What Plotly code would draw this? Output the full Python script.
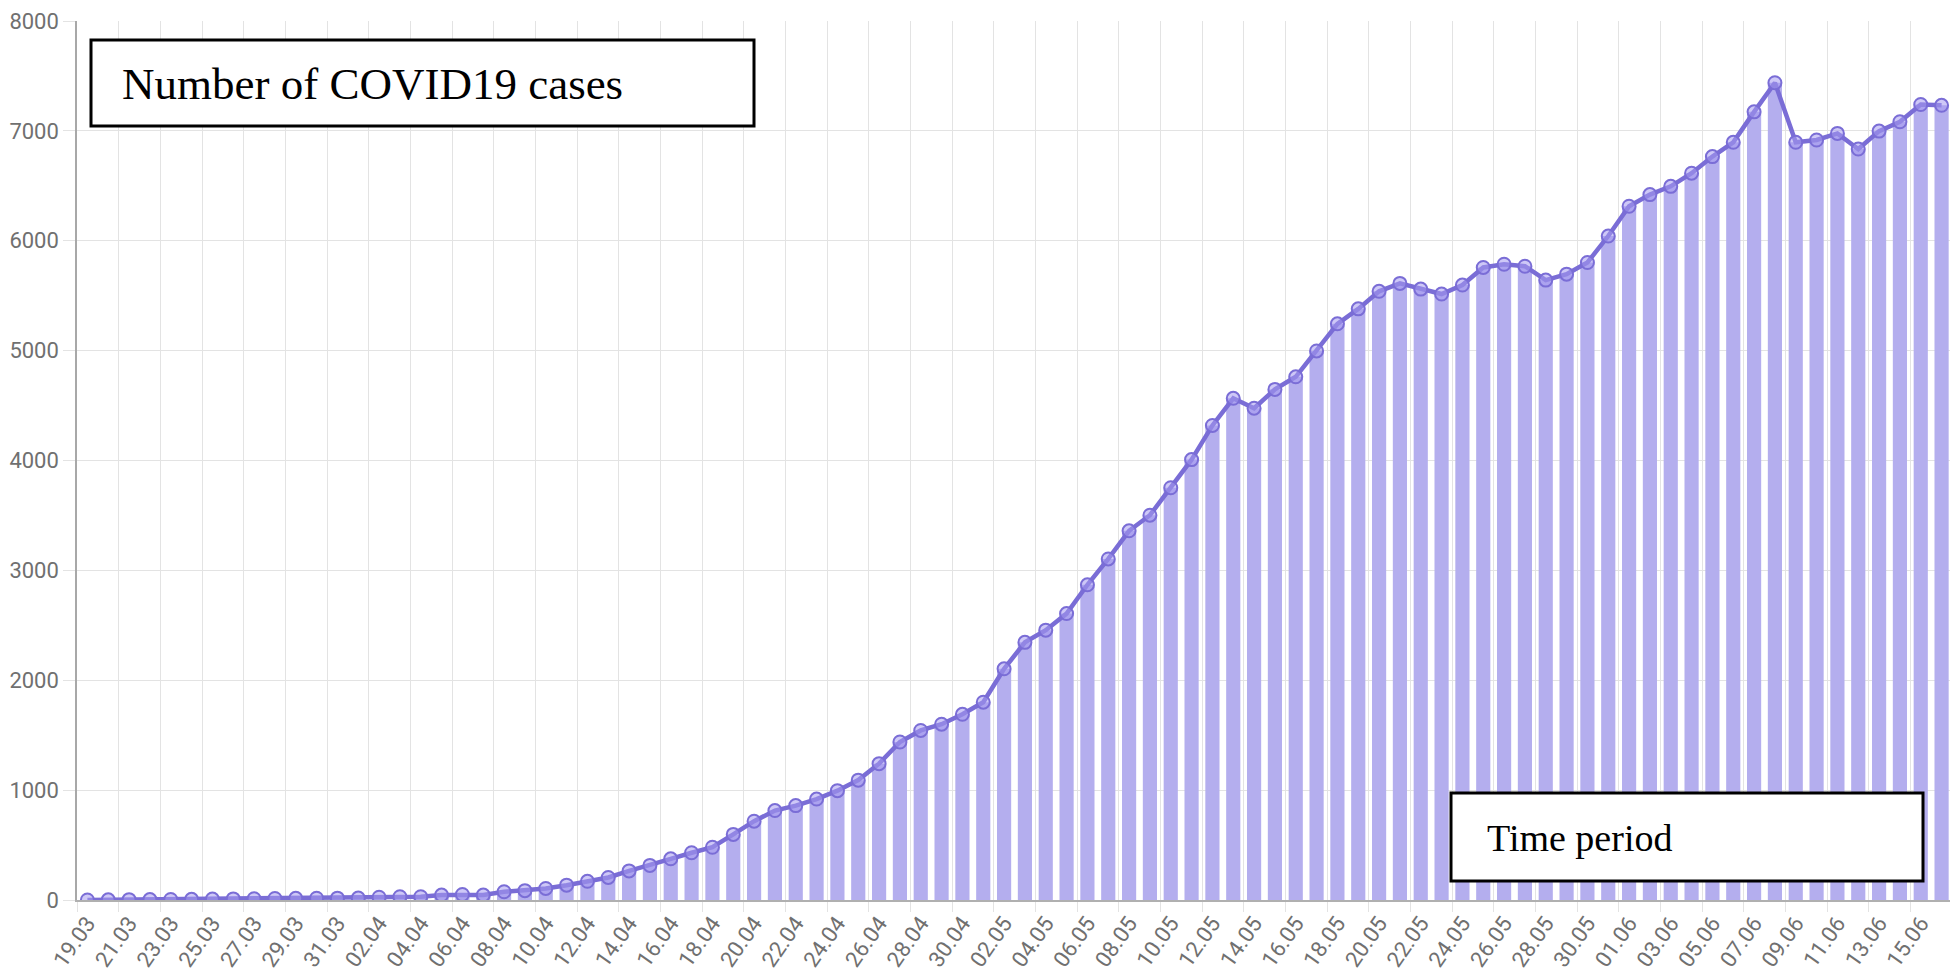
import pandas as pd
import plotly.graph_objects as go

# categories: daily dates 19.03 - 16.06
dates = pd.date_range("2020-03-19", "2020-06-16").strftime("%d.%m").tolist()

cases = [0, 2, 3, 4, 5, 6, 8, 10, 12, 14,
         15, 16, 17, 18, 25, 30, 30, 45, 50, 45,
         75, 85, 105, 135, 170, 205, 265, 315, 375, 430,
         480, 597, 717, 814, 859, 919, 995, 1091, 1241, 1438,
         1543, 1600, 1690, 1800, 2104, 2345, 2456, 2607, 2869, 3104,
         3360, 3502, 3752, 4008, 4319, 4566, 4476, 4647, 4762, 4997,
         5244, 5380, 5540, 5612, 5560, 5515, 5597, 5757, 5786, 5768,
         5642, 5696, 5802, 6043, 6314, 6420, 6495, 6615, 6766, 6896,
         7173, 7438, 6896, 6917, 6977, 6835, 6998, 7083, 7240, 7233]

y_ticks = [0, 1000, 2000, 3000, 4000, 5000, 6000, 7000, 8000]

# page body has an 8px offset; target screen pixels are translated into figure pixels
OFF = 8
W, H = 1950, 968
PL, PR, PT, PB = 77, 1952, 21, 900          # plot area in screen pixels
L, R, T, B = PL - OFF, W - (PR - OFF), PT - OFF, H - (PB - OFF)

fig = go.Figure()
fig.add_trace(go.Bar(x=dates, y=cases, marker=dict(color="#b4aeee", line=dict(width=0)),
                     hoverinfo="skip"))
fig.add_trace(go.Scatter(x=dates, y=cases, mode="lines+markers",
                         line=dict(color="#7a6dd6", width=4.5),
                         marker=dict(size=13, color="rgba(165,155,240,0.55)",
                                     line=dict(color="#7a6dd6", width=2))))

def px_x(p):
    return (p - PL) / (PR - PL)

def px_y(p):
    return (PB - p) / (PB - PT)

shapes = [
    dict(type="rect", xref="paper", yref="paper",
         x0=px_x(91), x1=px_x(754), y0=px_y(126), y1=px_y(40),
         fillcolor="white", line=dict(color="black", width=3), layer="above"),
    dict(type="rect", xref="paper", yref="paper",
         x0=px_x(1451), x1=px_x(1923), y0=px_y(881), y1=px_y(793),
         fillcolor="white", line=dict(color="black", width=3), layer="above"),
]
annotations = [
    dict(text="Number of COVID19 cases", xref="paper", yref="paper",
         x=px_x(120), y=px_y(84), xanchor="left", yanchor="middle", showarrow=False,
         font=dict(family="Liberation Serif", size=45, color="black")),
    dict(text="Time period", xref="paper", yref="paper",
         x=px_x(1485), y=px_y(838), xanchor="left", yanchor="middle", showarrow=False,
         font=dict(family="Liberation Serif", size=38, color="black")),
]

fig.update_layout(
    width=W, height=H,
    margin=dict(l=L, r=R, t=T, b=B, pad=0, autoexpand=False),
    paper_bgcolor="white", plot_bgcolor="white",
    showlegend=False, bargap=0.32,
    shapes=shapes, annotations=annotations,
    font=dict(family="Roboto", color="#666666"),
)
fig.update_xaxes(type="category", tickson="boundaries", tickmode="linear", tick0=0, dtick=2,
                 tickangle=-55, tickfont=dict(size=22, color="#707070"),
                 showgrid=True, gridcolor="#e3e3e3", gridwidth=1,
                 ticks="outside", ticklen=10, tickcolor="#e3e3e3",
                 showline=True, linecolor="#b0b0b0", linewidth=1.5,
                 range=[-0.5, len(dates) - 0.5])
fig.update_yaxes(range=[0, 8000], tickvals=y_ticks, tickfont=dict(size=22, color="#707070"),
                 ticklabeloverflow="allow",
                 showgrid=True, gridcolor="#e3e3e3", gridwidth=1,
                 ticks="outside", ticklen=12, tickcolor="#e3e3e3",
                 showline=True, linecolor="#a8a8a8", linewidth=1.5, zeroline=False)

fig.write_html("out.html")
